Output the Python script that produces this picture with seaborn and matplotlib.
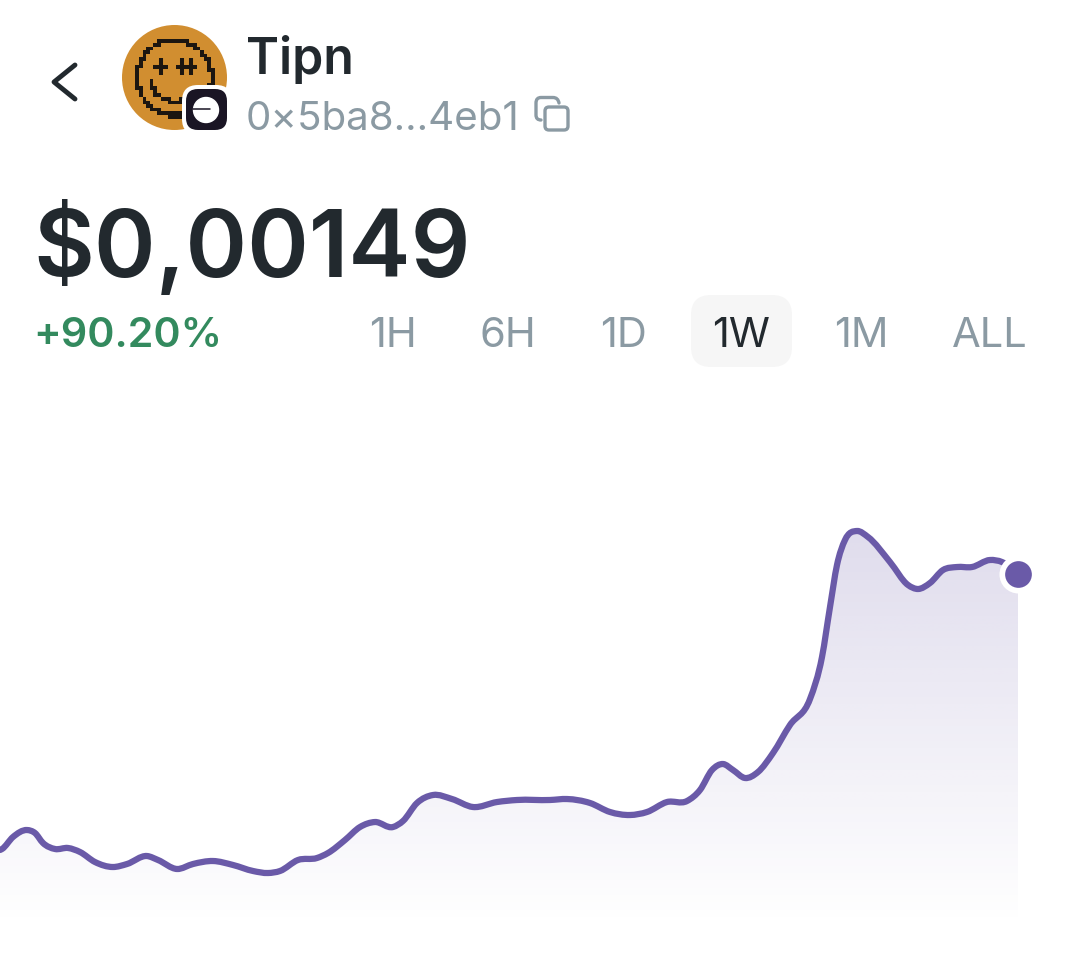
import matplotlib
matplotlib.use('Agg')
import numpy as np
import pandas as pd
import matplotlib.pyplot as plt
import seaborn as sns
from matplotlib.patches import Circle, FancyBboxPatch, PathPatch
from matplotlib.path import Path

# time in ten minute steps over the week, price in 1e-5 usd
steps = [0, 2, 13, 27, 35, 43, 55, 68, 80, 95, 113, 127, 147, 158, 177, 193, 213, 233,
         253, 268, 280, 298, 317, 328, 345, 360, 375, 393, 403, 417, 433, 452, 473, 497,
         517, 550, 567, 590, 610, 630, 647, 667, 687, 700, 712, 723, 733, 745, 758, 773,
         790, 810, 822, 830, 837, 845, 857, 868, 890, 908, 918, 930, 943, 957, 972, 990,
         1002, 1018]
price = [78.23, 78.49, 81.57, 83.36, 82.59, 80.03, 78.49, 78.75, 77.72, 75.15, 73.87,
         74.64, 76.69, 75.67, 73.36, 74.64, 75.41, 74.39, 72.85, 72.33, 72.85, 75.67,
         76.18, 77.46, 80.80, 84.13, 85.41, 84.13, 85.67, 90.29, 92.34, 91.31, 89.26,
         90.54, 91.06, 91.06, 91.31, 90.29, 87.98, 87.21, 87.98, 90.54, 90.80, 93.62,
         98.75, 100.29, 98.75, 96.70, 98.24, 103.11, 110.30, 116.96, 127.74, 140.56,
         151.34, 157.75, 160.06, 158.52, 152.10, 146.21, 145.18, 146.72, 150.05, 150.82,
         150.82, 152.62, 152.10, 149.03]
ranges = ['1H', '6H', '1D', '1W', '1M', 'ALL']
range_x = [393, 508, 624, 741, 861, 990]

PURPLE = '#6a5aa8'
DARK = '#22292e'
GREY = '#8b9aa3'
INK = '#1c1610'


def smooth_path(xy):
    # bezier through the read points, three point tangents
    x, y = xy[:, 0], xy[:, 1]
    h = np.diff(x)
    d = np.diff(y) / h
    m = np.zeros(len(x))
    m[1:-1] = (h[:-1] * d[1:] + h[1:] * d[:-1]) / (h[:-1] + h[1:])
    m[0], m[-1] = d[0], d[-1]
    verts = [(x[0], y[0])]
    codes = [Path.MOVETO]
    for i in range(len(x) - 1):
        verts += [(x[i] + h[i] / 3, y[i] + m[i] * h[i] / 3),
                  (x[i + 1] - h[i] / 3, y[i + 1] - m[i + 1] * h[i] / 3),
                  (x[i + 1], y[i + 1])]
        codes += [Path.CURVE4] * 3
    return verts, codes


sns.set_theme(style='white')
plt.rcParams['font.family'] = ['Inter', 'DejaVu Sans']

df = pd.DataFrame({'step': steps, 'price': price})

fig = plt.figure(figsize=(10.8, 9.72), dpi=100, facecolor='white')
ax = fig.add_axes([0, 0, 1, 1])

sns.lineplot(data=df, x='step', y='price', ax=ax, color=PURPLE, linewidth=4.5,
             estimator=None, sort=False, zorder=3)
raw = ax.lines[0]
raw.set_visible(False)
verts, codes = smooth_path(raw.get_xydata())
ax.add_patch(PathPatch(Path(verts, codes), fc='none', ec=PURPLE, lw=4.5, zorder=3,
                       capstyle='round', joinstyle='round'))

# gradient under the line
floor = 59
rgba = np.zeros((256, 2, 4))
rgba[..., :3] = matplotlib.colors.to_rgb(PURPLE)
rgba[..., 3] = np.linspace(0.21, 0, 256)[:, None]
im = ax.imshow(rgba, extent=(0, 1018, floor, df['price'].max()), aspect='auto',
               origin='upper', zorder=1, interpolation='bilinear')
clip = PathPatch(Path(verts + [(1018, floor), (0, floor), verts[0]],
                      codes + [Path.LINETO, Path.LINETO, Path.CLOSEPOLY]),
                 fc='none', ec='none')
ax.add_patch(clip)
im.set_clip_path(clip)

ax.scatter(steps[-1], price[-1], s=750, color='white', zorder=4, linewidths=0)
ax.scatter(steps[-1], price[-1], s=370, color=PURPLE, zorder=5, linewidths=0)
ax.set_xlim(0, 1080)
ax.set_ylim(46.94, 296.26)
ax.axis('off')

# header in pixel coordinates
ui = fig.add_axes([0, 0, 1, 1], facecolor='none')
ui.axis('off')

ui.plot([75, 54, 75], [65, 82, 99], color=DARK, lw=3.5, solid_capstyle='round',
        solid_joinstyle='round')

# avatar
ui.add_patch(Circle((174.5, 77.5), 52.5, color='#d18e30', lw=0))
cell = 3.6
gx, gy = np.meshgrid(np.arange(130, 220, cell), np.arange(34, 124, cell))
r = np.hypot(gx - 174.5, gy - 77.5)
ring = (r > 35) & (r < 39.8)
smile = (r > 21.5) & (r < 26.2) & (gy > 79) & (gx < 192)
art = np.ma.masked_where(~(ring | smile), np.ones_like(gx))
ui.pcolormesh(gx, gy, art, cmap=matplotlib.colors.ListedColormap([INK]), shading='nearest')
ui.plot([153, 168], [67, 67], color=INK, lw=2.9, solid_capstyle='butt')
ui.plot([161, 161], [58, 75], color=INK, lw=2.9, solid_capstyle='butt')
ui.plot([176, 197], [67, 67], color=INK, lw=2.9, solid_capstyle='butt')
ui.plot([181.5, 181.5], [58, 75], color=INK, lw=2.9, solid_capstyle='butt')
ui.plot([190.5, 190.5], [58, 75], color=INK, lw=2.9, solid_capstyle='butt')

# chain badge
ui.add_patch(FancyBboxPatch((182, 85), 50, 50, boxstyle='round,pad=0,rounding_size=16',
                            fc='white', ec='none', zorder=4))
ui.add_patch(FancyBboxPatch((186, 89), 41, 41, boxstyle='round,pad=0,rounding_size=12',
                            fc='#1a1524', ec='none', zorder=5))
ui.add_patch(Circle((206, 110), 12.5, color='white', zorder=6))
ui.plot([193, 210], [109, 109], color='#1a1524', lw=1.1, zorder=7)

# copy icon
ui.add_patch(FancyBboxPatch((545, 107), 23, 23, boxstyle='round,pad=0,rounding_size=4',
                            fc='white', ec=GREY, lw=2.4, zorder=3))
back = Path([(559, 103), (558, 97.5), (553, 97.5), (541, 97.5), (536, 97.5), (536, 103),
             (536, 115), (536, 120), (541, 120)],
            [Path.MOVETO, Path.CURVE3, Path.CURVE3, Path.LINETO, Path.CURVE3, Path.CURVE3,
             Path.LINETO, Path.CURVE3, Path.CURVE3])
ui.add_patch(PathPatch(back, fc='none', ec=GREY, lw=2.4, capstyle='round'))

# texts
ui.text(246, 74, 'Tipn', fontsize=36, fontweight='semibold', color=DARK, va='baseline')
ui.text(246, 130, '0×5ba8...4eb1', fontsize=29, color=GREY, va='baseline')
ui.text(33, 277, '$0,00149', fontsize=67.3, fontweight='semibold', color=DARK, va='baseline')
ui.text(33, 347, '+90.20%', fontsize=29.7, fontweight='semibold', color='#338a5e', va='baseline')

ui.add_patch(FancyBboxPatch((691, 295), 101, 72, boxstyle='round,pad=0,rounding_size=20',
                            fc='#f6f6f6', ec='none', zorder=1))
for label, x in zip(ranges, range_x):
    ui.text(x, 347, label, fontsize=30, ha='center', va='baseline', zorder=2,
            color=DARK if label == '1W' else GREY)

ui.set_xlim(0, 1080)
ui.set_ylim(972, 0)

fig.savefig('out.png', dpi=100, facecolor='white')
